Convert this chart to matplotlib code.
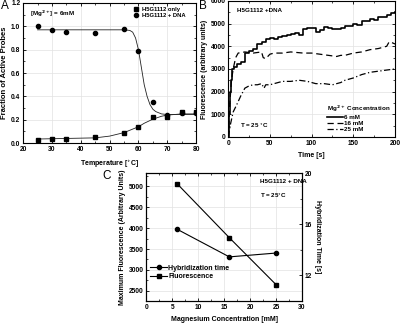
import numpy as np
import matplotlib
matplotlib.use("Agg")
import matplotlib.pyplot as plt
from matplotlib.ticker import MultipleLocator

plt.rcParams['font.family'] = ['Liberation Sans', 'DejaVu Sans']
plt.rcParams['font.weight'] = 'bold'
plt.rcParams['font.size'] = 5

# ---- panel A data ----
temp = [25, 30, 35, 45, 55, 60, 65, 70, 75, 80]
probe_only = [0.03, 0.035, 0.035, 0.05, 0.09, 0.14, 0.225, 0.22, 0.265, 0.27]
probe_dna = [1.0, 0.965, 0.95, 0.945, 0.98, 0.785, 0.35, 0.24, 0.26, 0.255]
fit_t = [25, 45, 50, 55, 58, 60, 62, 65, 68, 70, 75, 80]
fit_only = [0.035, 0.045, 0.06, 0.09, 0.12, 0.14, 0.17, 0.205, 0.23, 0.24, 0.25, 0.25]
fit_dna_t = [25, 55, 57, 58, 59, 60, 61, 62, 63, 64, 65, 66, 68, 70, 80]
fit_dna = [0.97, 0.97, 0.965, 0.95, 0.9, 0.8, 0.65, 0.5, 0.4, 0.33, 0.29, 0.27, 0.25, 0.245, 0.245]

# ---- panel B data ----
t6 = [0, 1, 2, 3, 4, 5, 7, 10, 15, 19, 20, 25, 30, 35, 40, 45, 50, 55, 60, 65, 70, 75, 80, 85,
      90, 95, 100, 105, 110, 115, 120, 125, 130, 135, 140, 145, 150, 155, 160, 165, 170, 175,
      180, 185, 190, 195, 200]
f6 = [0, 1000, 2000, 2500, 2800, 3000, 3100, 3200, 3300, 3300, 3700, 3800, 3900, 4100, 4200, 4300,
      4350, 4300, 4400, 4450, 4500, 4550, 4600, 4500, 4750, 4800, 4800, 4650, 4700, 4850, 4800, 4750,
      4750, 4800, 4900, 4900, 5000, 4950, 5100, 5100, 5200, 5150, 5300, 5300, 5400, 5450, 5500]
t16 = [0, 2, 4, 6, 9, 12, 20, 30, 40, 42, 45, 50, 55, 65, 75, 90, 100, 110, 120, 130, 135, 140,
       150, 160, 170, 180, 185, 190, 193, 197, 200]
f16 = [0, 1500, 2500, 3000, 3500, 3700, 3750, 3700, 3750, 3500, 3450, 3650, 3700, 3700, 3750, 3700,
       3700, 3650, 3600, 3550, 3600, 3600, 3700, 3750, 3850, 3900, 3950, 4000, 4200, 4150, 4100]
t25 = [0, 3, 6, 10, 15, 20, 25, 30, 35, 40, 43, 45, 50, 55, 65, 75, 85, 95, 105, 115, 125, 135,
       140, 150, 160, 170, 180, 190, 200]
f25 = [0, 600, 1100, 1400, 1800, 2150, 2250, 2300, 2300, 2350, 2150, 2300, 2300, 2350, 2450, 2450,
       2500, 2450, 2350, 2350, 2300, 2400, 2500, 2600, 2750, 2850, 2900, 2950, 3000]

# ---- panel C data ----
mg = [6, 16, 25]
max_fluor = [5050, 3770, 2650]
hyb_time = [15.6, 13.45, 13.75]

fig = plt.figure(figsize=(4.06, 3.29), dpi=100)


def style(ax, right=True):
    ax.tick_params(which='both', direction='in', top=True, right=right, labelsize=4.8, pad=2)
    ax.tick_params(which='major', length=2.5, width=0.6)
    ax.tick_params(which='minor', length=1.5, width=0.5)
    ax.grid(True, color='#e2e2e2', lw=0.5)
    ax.set_axisbelow(True)
    for s in ax.spines.values():
        s.set_linewidth(0.8)


# Panel A
axA = fig.add_axes([0.057, 0.565, 0.426, 0.426])
axA.plot(fit_t, fit_only, '-', color='#222222', lw=0.6)
axA.plot(fit_dna_t, fit_dna, '-', color='#222222', lw=0.6)
axA.plot(temp, probe_only, 's', color='black', ms=3, label='H5G1112 only')
axA.plot(temp, probe_dna, 'o', color='black', ms=3, label='H5G1112 + DNA')
axA.set_xlim(20, 80)
axA.set_ylim(0, 1.2)
axA.xaxis.set_major_locator(MultipleLocator(10))
axA.xaxis.set_minor_locator(MultipleLocator(5))
axA.yaxis.set_major_locator(MultipleLocator(0.2))
axA.yaxis.set_minor_locator(MultipleLocator(0.1))
axA.set_xlabel('Temperature [$^{\\circ}$C]', fontsize=5, fontweight='bold', labelpad=4)
axA.set_ylabel('Fraction of Active Probes', fontsize=5.5, fontweight='bold', labelpad=2)
axA.text(0.04, 0.96, '[Mg$^{2+}$] = 6mM', transform=axA.transAxes, fontsize=4.5, va='top')
axA.legend(loc='upper right', bbox_to_anchor=(0.96, 1.0), frameon=False, fontsize=4.2,
           handletextpad=0.6, borderaxespad=0.2, labelspacing=0.3, handlelength=1)
style(axA)
fig.text(0.003, 1.0, 'A', fontsize=8.5, fontweight='normal', va='top')

# Panel B
axB = fig.add_axes([0.562, 0.584, 0.411, 0.413])
axB.step(t6, f6, '-', color='black', lw=1.2, where='post', label='6 mM')
axB.plot(t16, f16, color='black', lw=0.9, dashes=(5, 3), label='16 mM')
axB.plot(t25, f25, color='black', lw=0.9, dashes=(5, 2, 1, 2), label='25 mM')
axB.set_xlim(0, 200)
axB.set_ylim(0, 6000)
axB.xaxis.set_major_locator(MultipleLocator(50))
axB.xaxis.set_minor_locator(MultipleLocator(25))
axB.yaxis.set_major_locator(MultipleLocator(1000))
axB.yaxis.set_minor_locator(MultipleLocator(500))
axB.set_xlabel('Time [s]', fontsize=5, fontweight='bold', labelpad=4)
axB.set_ylabel('Fluorescence (arbitrary units)', fontsize=5, fontweight='bold', labelpad=2)
axB.text(0.05, 0.95, 'H5G1112 +DNA', transform=axB.transAxes, fontsize=4.5, va='top')
axB.text(0.07, 0.05, 'T = 25 $^{\\circ}$C', transform=axB.transAxes, fontsize=4.5, va='bottom')
axB.legend(loc='lower right', frameon=False, fontsize=4.5, title='Mg$^{2+}$ Concentration',
           title_fontsize=4.5, borderaxespad=0.3, labelspacing=0.15, handlelength=2.6,
           handletextpad=0.1, alignment='left')
style(axB)
fig.text(0.490, 1.0, 'B', fontsize=8.5, fontweight='normal', va='top')

# Panel C
axC = fig.add_axes([0.360, 0.085, 0.384, 0.389])
axC2 = axC.twinx()
l1, = axC2.plot(mg, hyb_time, '-o', color='black', ms=3, lw=0.8, label='Hybridization time')
l2, = axC.plot(mg, max_fluor, '-s', color='black', ms=3, lw=0.8, label='Fluorescence')
axC.set_xlim(0, 30)
axC.set_ylim(2260, 5310)
axC2.set_ylim(10, 20)
axC.xaxis.set_major_locator(MultipleLocator(5))
axC.xaxis.set_minor_locator(MultipleLocator(2.5))
axC.yaxis.set_major_locator(MultipleLocator(500))
axC.yaxis.set_minor_locator(MultipleLocator(250))
axC2.yaxis.set_major_locator(MultipleLocator(4))
axC2.yaxis.set_minor_locator(MultipleLocator(2))
axC.set_xlabel('Magnesium Concentration [mM]', fontsize=5, fontweight='bold', labelpad=4)
axC.set_ylabel('Maximum Fluorescence (Arbitrary Units)', fontsize=5, fontweight='bold', labelpad=2)
axC2.set_ylabel('Hybridization Time [s]', fontsize=5, fontweight='bold', rotation=270, labelpad=6)
axC.text(0.73, 0.95, 'H5G1112 + DNA', transform=axC.transAxes, fontsize=4.5, va='top')
axC.text(0.73, 0.86, 'T = 25$^{\\circ}$C', transform=axC.transAxes, fontsize=4.5, va='top')
axC.legend([l1, l2], ['Hybridization time', 'Fluorescence'], loc='lower left',
           bbox_to_anchor=(0.0, 0.13), frameon=False, fontsize=5, handlelength=2.4,
           handletextpad=0.2, labelspacing=0.2, borderaxespad=0.2)
style(axC, right=False)
axC2.tick_params(which='both', direction='in', labelsize=4.8, pad=2)
axC2.tick_params(which='major', length=2.5, width=0.6)
axC2.tick_params(which='minor', length=1.5, width=0.5)
fig.text(0.251, 0.465, 'C', fontsize=8.5, fontweight='normal', va='center')

fig.savefig('out.png', dpi=100)
